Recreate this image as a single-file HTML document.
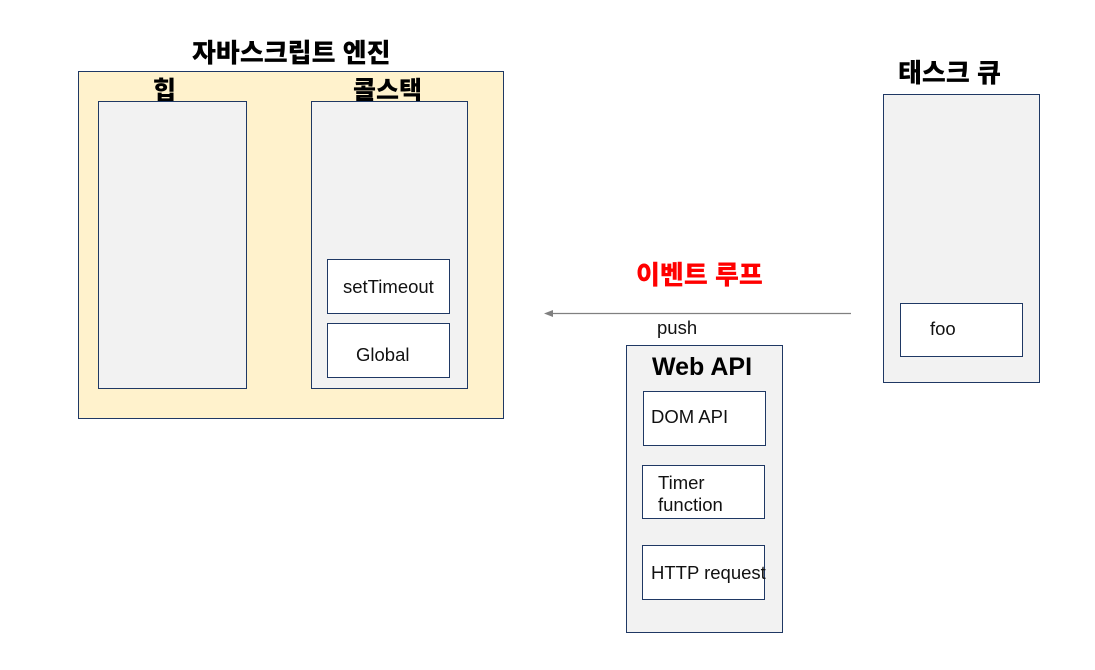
<!DOCTYPE html>
<html><head><meta charset="utf-8"><style>
body{margin:0;width:1095px;height:670px;background:#fff;position:relative;overflow:hidden;font-family:"Liberation Sans","Noto Sans CJK KR",sans-serif}
.b{position:absolute;box-sizing:border-box;border:1px solid #1f3864}
.g{background:#f2f2f2}
.w{background:#fff}
.t{position:absolute;font-size:18.5px;color:#111;white-space:nowrap}
.h{position:absolute;font-weight:900;font-size:25px;color:#000;white-space:nowrap}
</style></head><body>
<div class="h" style="left:192px;top:33px;font-size:26px">자바스크립트 엔진</div>
<div class="b" style="left:78px;top:71px;width:426px;height:348px;background:#fff2cc"></div>
<div class="h" style="left:153px;top:71px">힙</div>
<div class="h" style="left:353px;top:71px">콜스택</div>
<div class="b g" style="left:98px;top:101px;width:149px;height:288px"></div>
<div class="b g" style="left:311px;top:101px;width:157px;height:288px"></div>
<div class="b w" style="left:327px;top:259px;width:123px;height:55px"></div>
<div class="t" style="left:343px;top:276px">setTimeout</div>
<div class="b w" style="left:327px;top:323px;width:123px;height:55px"></div>
<div class="t" style="left:356px;top:344px">Global</div>
<div class="h" style="left:898px;top:53px;font-size:26px">태스크 큐</div>
<div class="b g" style="left:883px;top:94px;width:157px;height:289px"></div>
<div class="b w" style="left:900px;top:303px;width:123px;height:54px"></div>
<div class="t" style="left:930px;top:318px">foo</div>
<div class="h" style="left:636px;top:255px;color:#ff0000;font-size:26px">이벤트 루프</div>
<svg style="position:absolute;left:0;top:0" width="1095" height="670"><line x1="551" y1="313.5" x2="851" y2="313.5" stroke="#808080" stroke-width="1.3"/><polygon points="544,313.5 553,310 553,317" fill="#808080"/></svg>
<div class="t" style="left:657px;top:317px">push</div>
<div class="b g" style="left:626px;top:345px;width:157px;height:288px"></div>
<div class="h" style="left:652px;top:353px">Web API</div>
<div class="b w" style="left:643px;top:391px;width:123px;height:55px"></div>
<div class="t" style="left:651px;top:406px">DOM API</div>
<div class="b w" style="left:642px;top:465px;width:123px;height:54px"></div>
<div class="t" style="left:658px;top:472px;line-height:22px">Timer<br>function</div>
<div class="b w" style="left:642px;top:545px;width:123px;height:55px"></div>
<div class="t" style="left:651px;top:562px">HTTP request</div>
</body></html>
